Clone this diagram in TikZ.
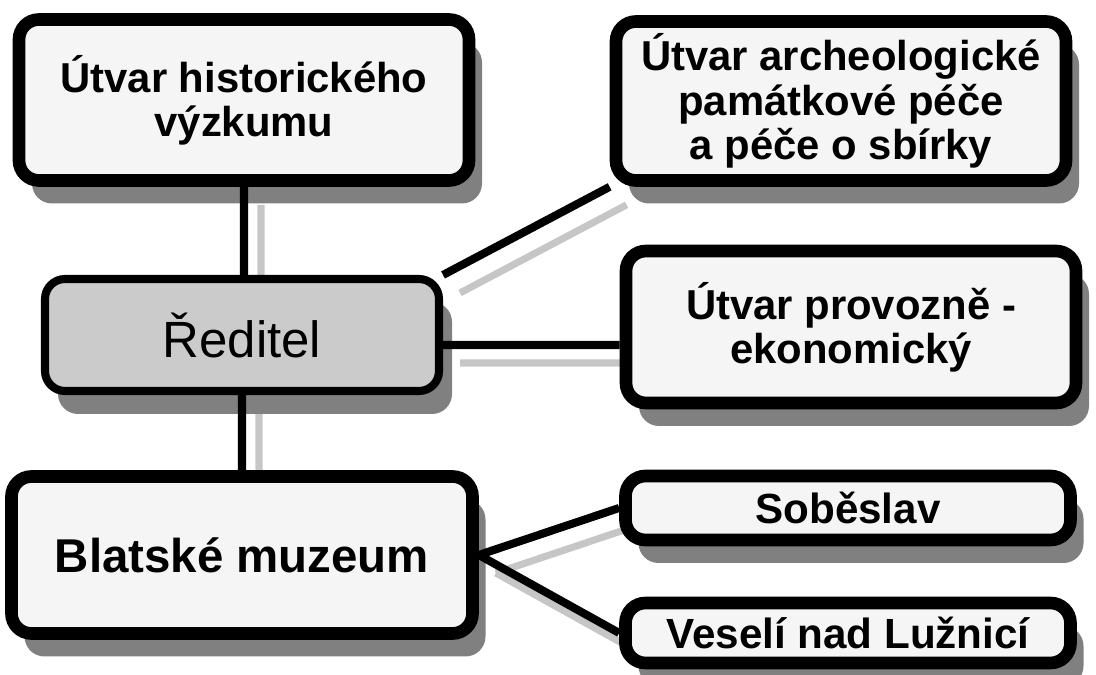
\documentclass[tikz,border=0pt]{standalone}
\usepackage{fontspec}
\setmainfont{Liberation Sans}
\usepackage{tikz}
\usetikzlibrary{positioning,backgrounds,shadows}

\definecolor{boxfill}{HTML}{F5F5F5}
\definecolor{dirfill}{HTML}{CBCBCB}
\definecolor{shadowgray}{HTML}{808080}

\tikzset{
  unitbox/.style={draw=black, fill=boxfill, rounded corners=0.2cm, line width=3.6pt, inner sep=0pt, align=center,
    drop shadow={shadow xshift=0.13cm, shadow yshift=-0.23cm, fill=shadowgray, opacity=1}},
  bigbox/.style={unitbox, minimum width=4.5cm, font=\bfseries\fontsize{11.9}{12.6}\selectfont},
  smallbox/.style={unitbox, minimum width=4.45cm, font=\bfseries\fontsize{12}{14}\selectfont},
  dirbox/.style={unitbox, fill=dirfill, line width=2.3pt, minimum width=3.94cm, minimum height=1.12cm, font=\fontsize{14.5}{17}\selectfont},
  link/.style={draw=black, line width=2.3pt},
  linkshadow/.style={draw=gray!45, line width=2pt, transform canvas={xshift=0.17cm, yshift=-0.18cm}}
}

\begin{document}
\begin{tikzpicture}
	\useasboundingbox (0,0) rectangle (10.96,6.75);

	\node[dirbox] (dir) at (2.42,3.40) {Ředitel};
	\node[bigbox, minimum height=1.61cm] (hist) at (2.44,5.75) {Útvar historického\\výzkumu};
	\node[bigbox, minimum height=1.59cm] (arch) at (8.41,5.74) {Útvar archeologické\\památkové péče\\a péče o sbírky};
	\node[bigbox, minimum height=1.52cm] (prov) at (8.51,3.48) {Útvar provozně -\\ekonomický};
	\node[bigbox, minimum width=4.61cm, minimum height=1.57cm, font=\bfseries\fontsize{13.5}{16}\selectfont] (muz) at (2.42,1.20) {Blatské muzeum};
	\node[smallbox, minimum height=0.64cm] (sob) at (8.48,1.67) {Soběslav};
	\node[smallbox, minimum height=0.60cm] (ves) at (8.48,0.42) {Veselí nad Lužnicí};

	% connectors
	\path[link]
		(hist.south) -- (hist.south |- dir.north)
		(dir.north east) -- (arch.south west)
		([yshift=-0.1cm]dir.east) -- ([yshift=-0.1cm]dir.east -| prov.west)
		(dir.south) -- (muz.north)
		(muz.east) -- (sob.west)
		(muz.east) -- (ves.west);

	% their shadows
	\begin{pgfonlayer}{background}
	\path[linkshadow]
		(hist.south) -- (hist.south |- dir.north)
		(dir.north east) -- (arch.south west)
		([yshift=-0.1cm]dir.east) -- ([yshift=-0.1cm]dir.east -| prov.west)
		(dir.south) -- (muz.north)
		(muz.east) -- (sob.west)
		(muz.east) -- (ves.west);
	\end{pgfonlayer}
\end{tikzpicture}
\end{document}
